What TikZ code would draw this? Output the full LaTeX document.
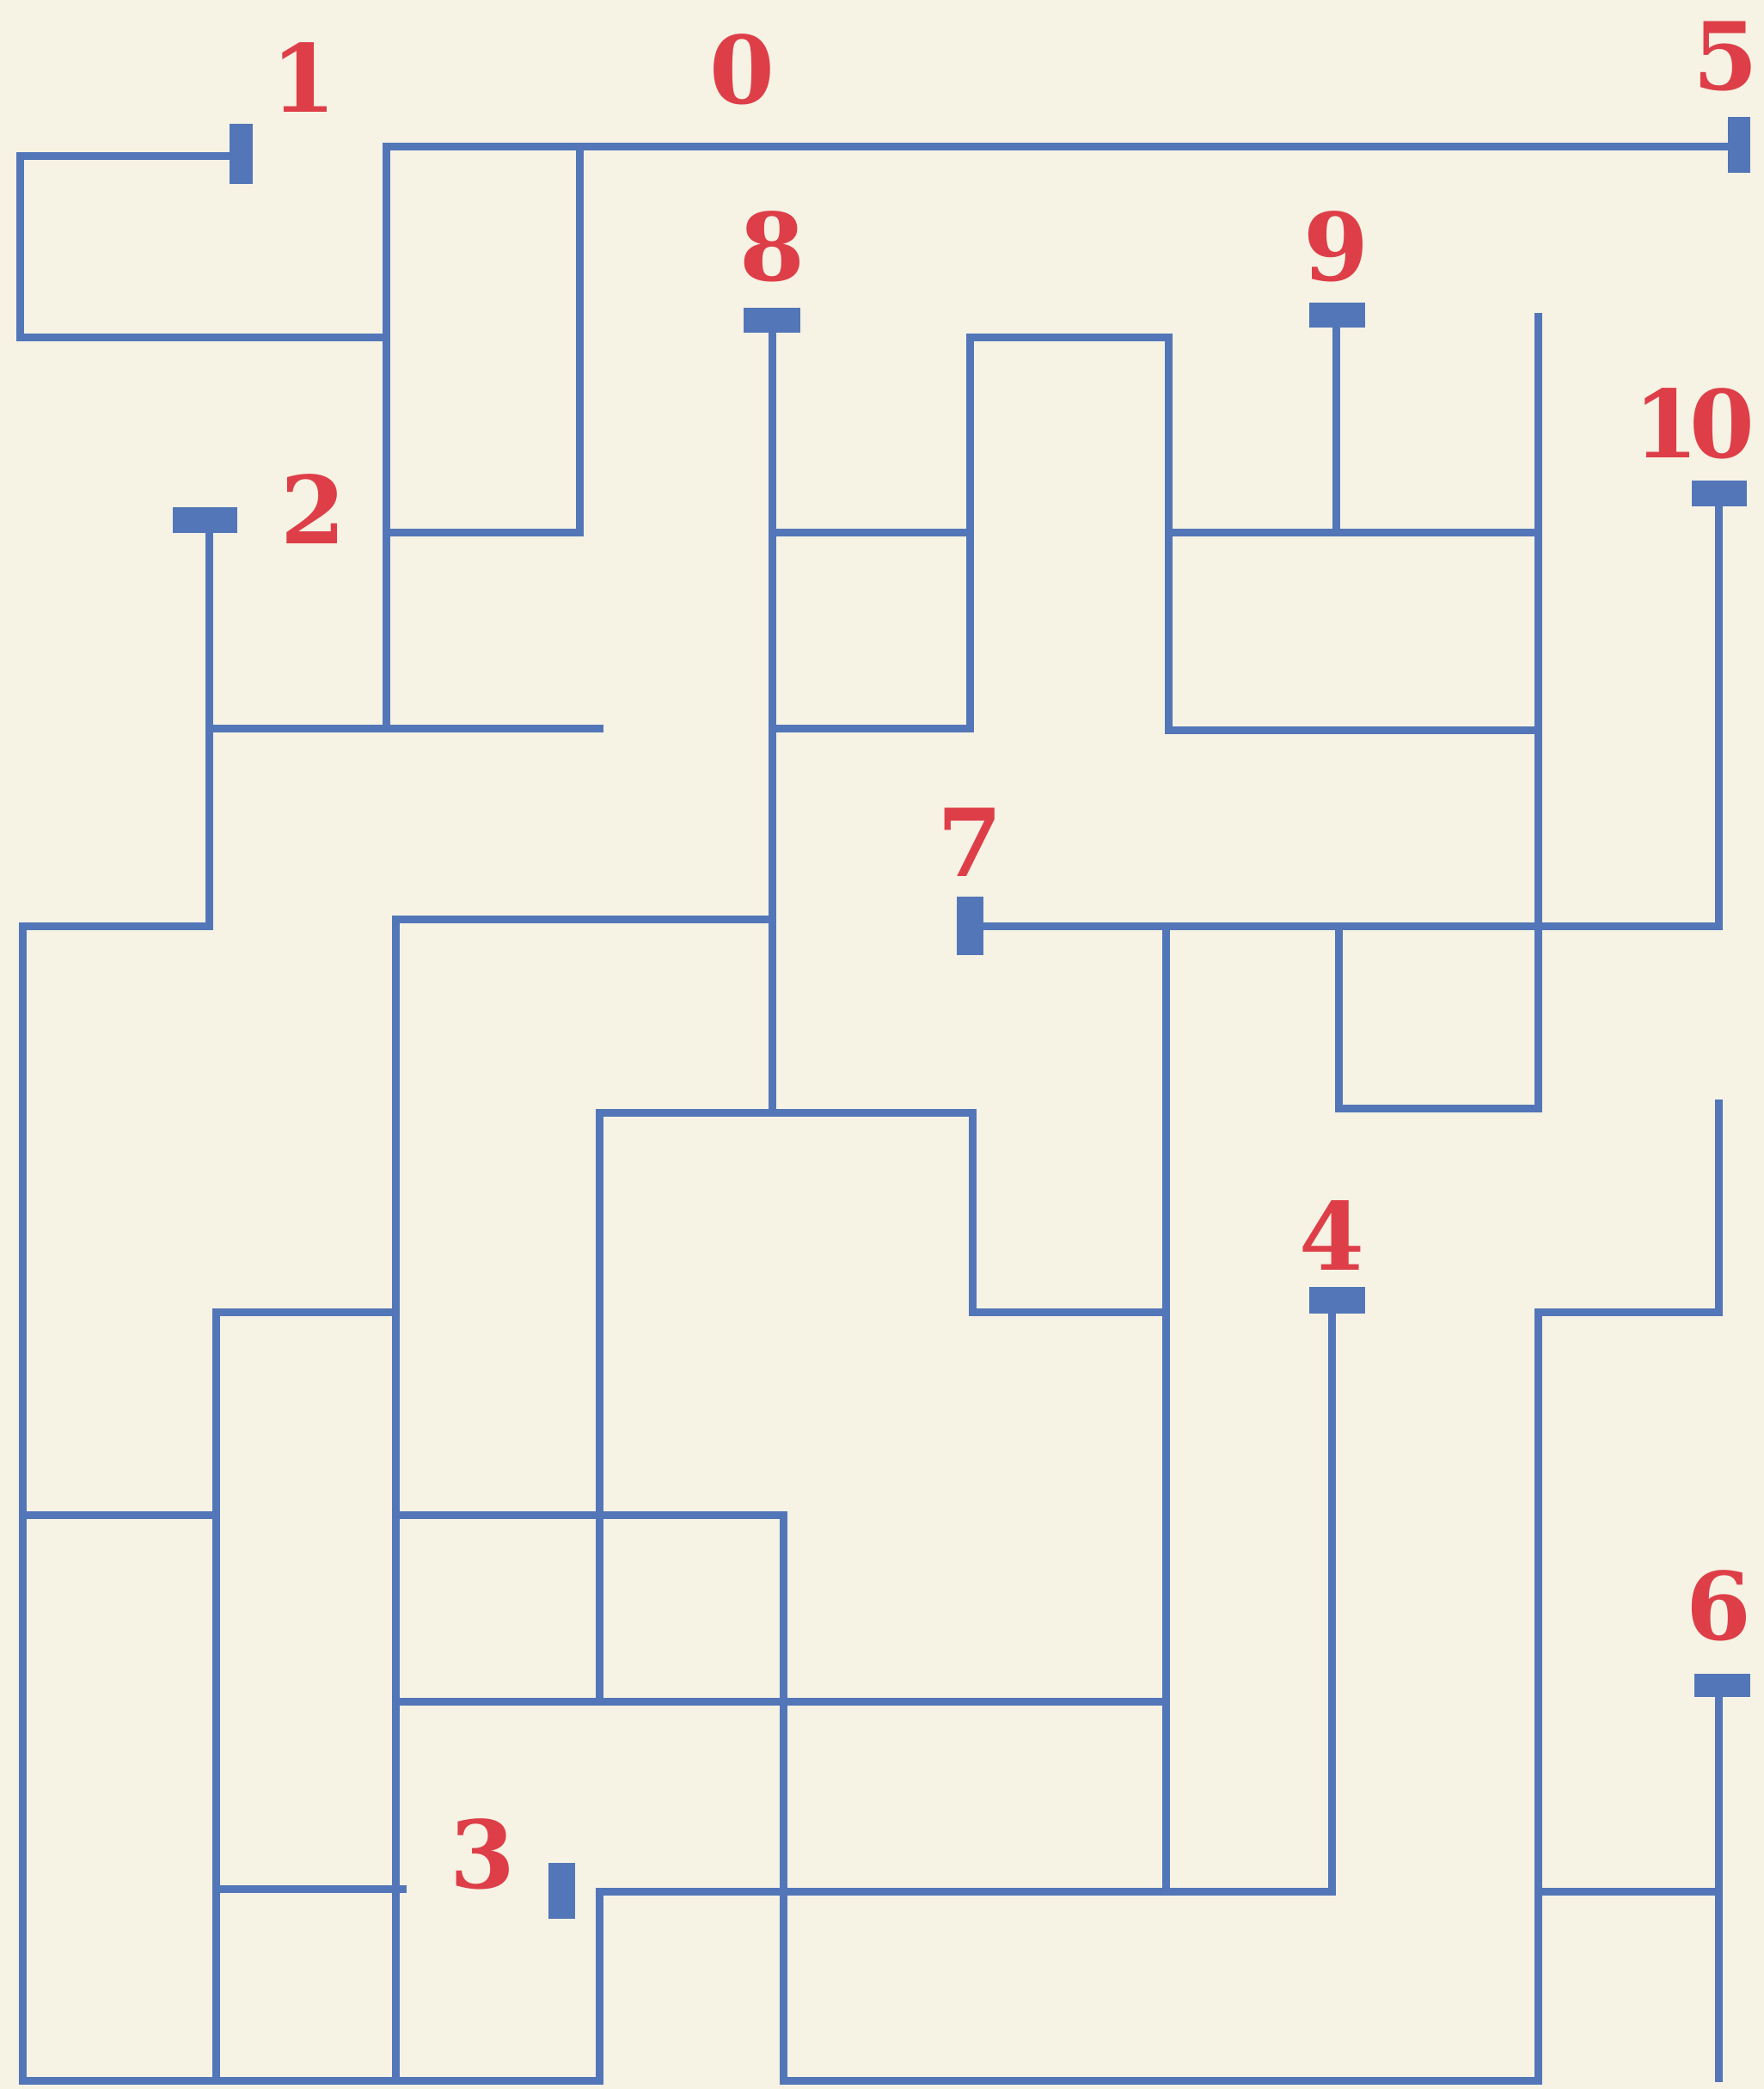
\documentclass[tikz,border=0pt]{standalone}
\usepackage{fontspec}
\newfontfamily\labfont{DejaVu Serif}
\definecolor{mazeblue}{RGB}{82,118,184}
\definecolor{mazered}{RGB}{222,62,72}
\definecolor{paper}{RGB}{246,242,228}
\begin{document}
\begin{tikzpicture}[x=0.01cm,y=-0.01cm,
  wall/.style={draw=mazeblue,line width=0.058cm,line join=miter,line cap=rect},
  endbar/.style={fill=mazeblue,draw=none},
  lab/.style={text=mazered,font=\labfont\bfseries\fontsize{20}{24}\selectfont,inner sep=0pt}]
\fill[paper] (0,0) rectangle (1324,1568);
\useasboundingbox (0,0) rectangle (1324,1568);

% terminal bars
\fill[endbar] (172,93) rectangle (190,138);    % 1
\fill[endbar] (1297,88) rectangle (1314,130);  % 5
\fill[endbar] (558,231) rectangle (601,250);   % 8
\fill[endbar] (983,227) rectangle (1025,246);  % 9
\fill[endbar] (1270,361) rectangle (1311,380); % 10
\fill[endbar] (130,381) rectangle (178,400);   % 2
\fill[endbar] (718,673) rectangle (738,717);   % 7
\fill[endbar] (983,966) rectangle (1025,986);  % 4
\fill[endbar] (1272,1256) rectangle (1314,1274); % 6
\fill[endbar] (412,1398) rectangle (432,1440); % 3

% labels
\node[lab] (l1) at (228,58) {1};
\node[lab] (l0) at (557,52) {0};
\node[lab] (l5) at (1295,42) {5};
\node[lab] (l8) at (580,185) {8};
\node[lab] (l9) at (1003,185) {9};
\node[lab,anchor=east] (l10) at (1318,318) {1\kern-2pt 0};
\node[lab] (l2) at (235,382) {2};
\node[lab] (l7) at (728,632) {7};
\node[lab] (l4) at (1000,927) {4};
\node[lab] (l6) at (1290,1205) {6};
\node[lab] (l3) at (362,1392) {3};

% walls: top-left
\draw[wall] (180,117) -- (15,117) -- (15,253) -- (290,253);
\draw[wall] (1300,110) -- (290,110) -- (290,547);
\draw[wall] (435,110) -- (435,400) -- (290,400);
\draw[wall] (157,547) -- (450,547);
\draw[wall] (157,390) -- (157,695) -- (17,695) -- (17,1562) -- (450,1562) -- (450,1420) -- (1000,1420) -- (1000,975);
\draw[wall] (17,1137) -- (162,1137);
\draw[wall] (162,1562) -- (162,985) -- (297,985);
\draw[wall] (162,1418) -- (302,1418);
\draw[wall] (297,1562) -- (297,690) -- (580,690);
\draw[wall] (297,1137) -- (588,1137) -- (588,1562) -- (1155,1562) -- (1155,985) -- (1290,985) -- (1290,828);
\draw[wall] (300,1277) -- (875,1277);
\draw[wall] (450,1277) -- (450,835) -- (730,835) -- (730,985) -- (875,985);
\draw[wall] (875,1420) -- (875,697);

% walls: middle/top-right
\draw[wall] (580,240) -- (580,835);
\draw[wall] (580,400) -- (728,400);
\draw[wall] (580,547) -- (728,547) -- (728,253) -- (877,253) -- (877,548) -- (1155,548);
\draw[wall] (877,400) -- (1155,400);
\draw[wall] (1003,236) -- (1003,400);
\draw[wall] (1155,238) -- (1155,832) -- (1005,832) -- (1005,695);
\draw[wall] (728,695) -- (1290,695) -- (1290,370);

% bottom right
\draw[wall] (1155,1420) -- (1290,1420);
\draw[wall] (1290,1265) -- (1290,1560);
\end{tikzpicture}
\end{document}
